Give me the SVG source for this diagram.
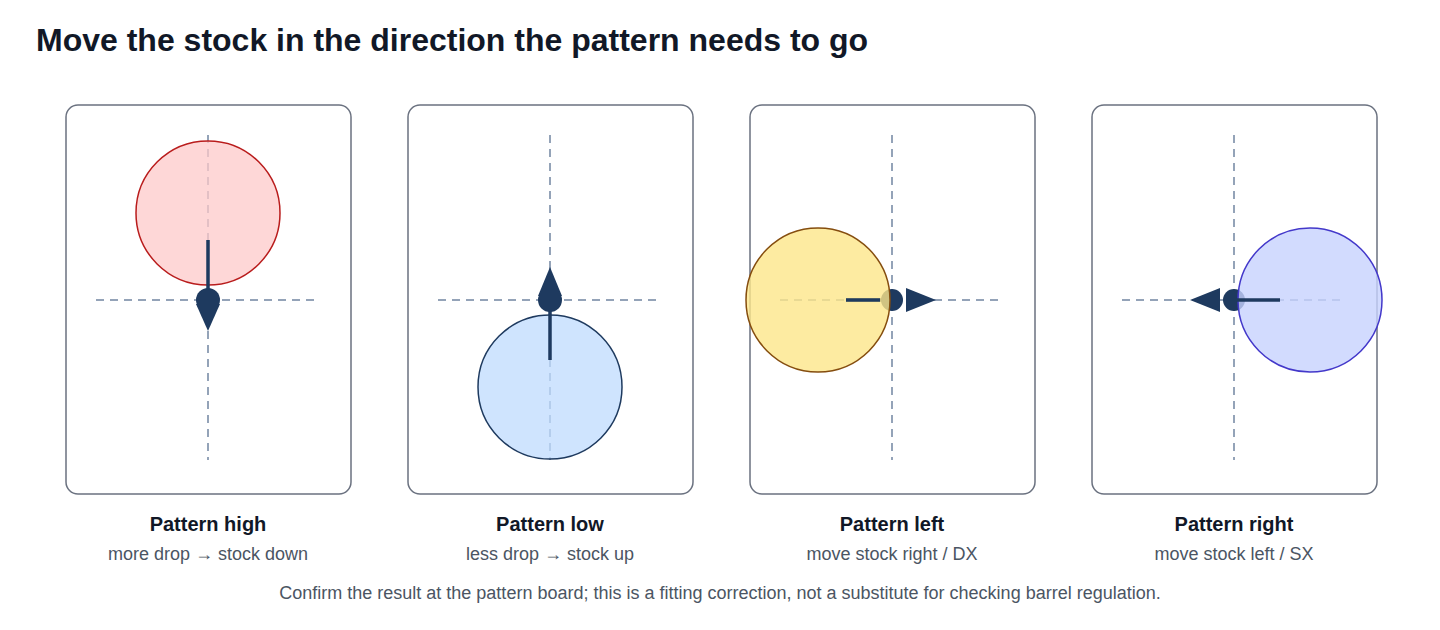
<svg xmlns="http://www.w3.org/2000/svg" width="1440" height="630" viewBox="0 0 1440 630">
<style>
.panel{fill:#fff;stroke:#6b7280;stroke-width:1.5}
.cross{stroke:#94a3b8;stroke-width:2;stroke-dasharray:8 6}
.shaft{stroke:#1e3a5f;stroke-width:3.5}
.head{fill:#1e3a5f}
.t{font-family:"Liberation Sans",Arial,sans-serif;text-anchor:middle}
.h{font-size:20px;font-weight:bold;fill:#111827}
.s{font-size:18px;fill:#4b5563}
</style>
<rect width="1440" height="630" fill="#fff"/>
<text x="36" y="51" font-family="Liberation Sans,Arial,sans-serif" font-size="32" font-weight="bold" fill="#111827">Move the stock in the direction the pattern needs to go</text>
<g id="panel-high">
<rect class="panel" x="66" y="105" width="285" height="389" rx="12"/>
<line class="cross" x1="208" y1="135" x2="208" y2="460"/><line class="cross" x1="96" y1="300" x2="320" y2="300"/>
<circle cx="208" cy="213" r="72" fill="#fecaca" fill-opacity="0.75" stroke="#b91c1c" stroke-width="1.5"/>
<line class="shaft" x1="208" y1="240" x2="208" y2="292"/>
<circle class="head" cx="208" cy="300" r="12"/><polygon class="head" points="196,304 220,304 208,331"/>
<text class="t h" x="208" y="531">Pattern high</text><text class="t s" x="208" y="560">more drop → stock down</text>
</g>
<g id="panel-low">
<rect class="panel" x="408" y="105" width="285" height="389" rx="12"/>
<line class="cross" x1="550" y1="135" x2="550" y2="460"/><line class="cross" x1="438" y1="300" x2="662" y2="300"/>
<circle cx="550" cy="387" r="72" fill="#bfdbfe" fill-opacity="0.75" stroke="#1e3a5f" stroke-width="1.5"/>
<line class="shaft" x1="550" y1="360" x2="550" y2="308"/>
<circle class="head" cx="550" cy="300" r="12"/><polygon class="head" points="538,296 562,296 550,267"/>
<text class="t h" x="550" y="531">Pattern low</text><text class="t s" x="550" y="560">less drop → stock up</text>
</g>
<g id="panel-left">
<rect class="panel" x="750" y="105" width="285" height="389" rx="12"/>
<line class="cross" x1="892" y1="135" x2="892" y2="460"/><line class="cross" x1="780" y1="300" x2="1004" y2="300"/>
<line class="shaft" x1="846" y1="300" x2="890" y2="300"/>
<circle class="head" cx="892" cy="300" r="11"/><polygon class="head" points="906,288 906,312 936,300"/>
<circle cx="818" cy="300" r="72" fill="#fde68a" fill-opacity="0.8" stroke="#854d0e" stroke-width="1.5"/>
<line class="shaft" x1="846" y1="300" x2="880" y2="300"/>
<text class="t h" x="892" y="531">Pattern left</text><text class="t s" x="892" y="560">move stock right / DX</text>
</g>
<g id="panel-right">
<rect class="panel" x="1092" y="105" width="285" height="389" rx="12"/>
<line class="cross" x1="1234" y1="135" x2="1234" y2="460"/><line class="cross" x1="1122" y1="300" x2="1346" y2="300"/>
<circle class="head" cx="1234" cy="300" r="11"/><polygon class="head" points="1220,288 1220,312 1190,300"/>
<circle cx="1310" cy="300" r="72" fill="#c7d2fe" fill-opacity="0.8" stroke="#4338ca" stroke-width="1.5"/>
<line class="shaft" x1="1280" y1="300" x2="1236" y2="300"/>
<text class="t h" x="1234" y="531">Pattern right</text><text class="t s" x="1234" y="560">move stock left / SX</text>
</g>
<text class="t" x="720" y="599" font-size="18" fill="#4b5563">Confirm the result at the pattern board; this is a fitting correction, not a substitute for checking barrel regulation.</text>
</svg>
